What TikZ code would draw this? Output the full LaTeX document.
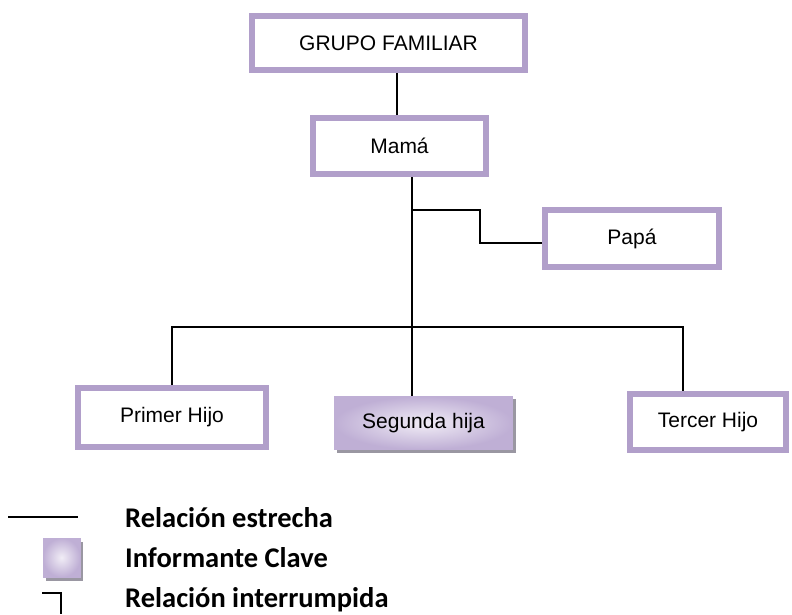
\documentclass[tikz,border=0pt]{standalone}
\usepackage{fontspec}
\setmainfont{Liberation Sans}
\newfontfamily\legendfont{Carlito}
\definecolor{lav}{HTML}{B19FCA}
\definecolor{lavdark}{HTML}{BFAFD5}
\definecolor{lavlight}{HTML}{F1EDF6}
\definecolor{shadowgray}{HTML}{9A97A2}
\begin{document}
\begin{tikzpicture}[x=1pt,y=-1pt,
  fambox/.style={draw=lav, line width=6pt, fill=white, rectangle, inner sep=0pt,
    font=\fontsize{21}{25}\selectfont},
  keybox/.style={draw=lavdark, line width=1pt, rectangle, inner sep=0pt,
    inner color=lavlight, outer color=lavdark, font=\fontsize{21}{25}\selectfont},
  shadowbox/.style={fill=shadowgray, draw=none, rectangle, inner sep=0pt},
  link/.style={line width=2pt, black},
  legendtext/.style={anchor=base west, inner sep=0pt,
    font=\legendfont\bfseries\fontsize{28.5}{32}\selectfont}]
\useasboundingbox (0,0) rectangle (792,614);

% boxes
\node[fambox, minimum width=273pt, minimum height=54pt] (g) at (388.5,43) {GRUPO FAMILIAR};
\node[fambox, minimum width=173pt, minimum height=56pt] (m) at (399.5,146) {Mamá};
\node[fambox, minimum width=174pt, minimum height=57pt] (p) at (632,238.5) {Papá};
\node[fambox, minimum width=188pt, minimum height=59pt] (c1) at (172,417.5) {Primer Hijo};
\node[fambox, minimum width=156pt, minimum height=56pt] (c3) at (708,422) {Tercer Hijo};
\node[shadowbox, minimum width=179pt, minimum height=54pt] (c2s) at (426.5,426) {};
\node[keybox, minimum width=178pt, minimum height=53pt] (c2) at (423.5,423) {Segunda hija};

% connectors
\coordinate (br1) at (412,210);
\coordinate (pj) at (480,243);
\coordinate (cb) at (412,327);
\draw[link] ([xshift=8.5pt]g.south) -- ([xshift=-2.5pt]m.north);
\draw[link] ([xshift=12.5pt]m.south) -- ([xshift=-11.5pt]c2.north);
\draw[link] (br1) -| (pj) -- (pj -| p.west);
\draw[link] (c1.north) |- (cb) -| ([xshift=-25pt]c3.north);

% legend
\coordinate (la) at (8,517);
\coordinate (lb) at (78,517);
\draw[link] (la) -- (lb);
\node[shadowbox, minimum width=37pt, minimum height=39pt] (ks) at (64.5,561) {};
\node[keybox, minimum width=37pt, minimum height=39pt] (kb) at (61.5,557.5) {};
\coordinate (ba) at (42,593);
\coordinate (bb) at (61,593);
\coordinate (bc) at (61,614);
\draw[link] (ba) -- (bb) -- (bc);
\node[legendtext] (t1) at (125,527) {Relación estrecha};
\node[legendtext] (t2) at (125,567) {Informante Clave};
\node[legendtext] (t3) at (125,607) {Relación interrumpida};
\end{tikzpicture}
\end{document}
